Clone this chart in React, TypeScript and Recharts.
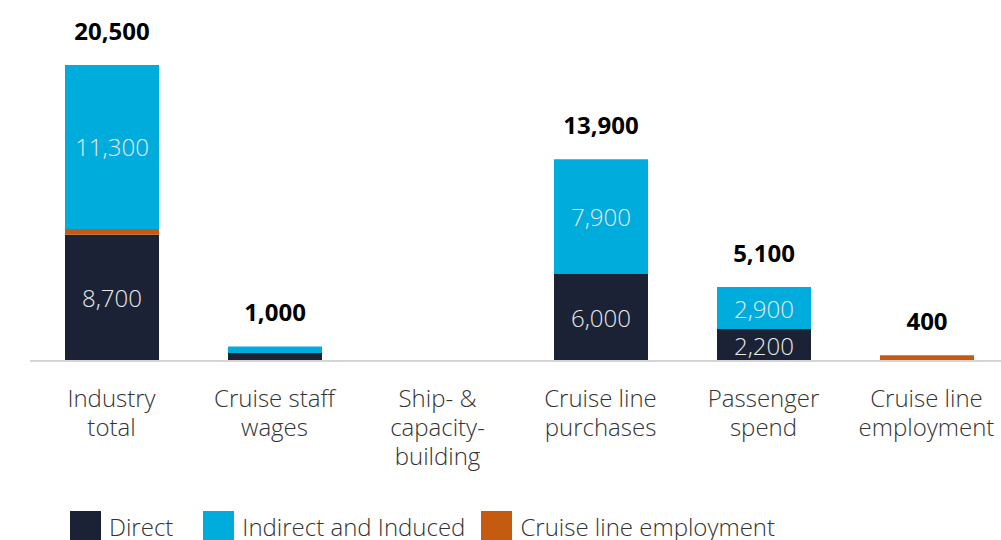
import { Bar, BarChart, LabelList, XAxis, YAxis } from "recharts";

const categoryLines = [
  ["Industry", "total"],
  ["Cruise staff", "wages"],
  ["Ship- &", "capacity-", "building"],
  ["Cruise line", "purchases"],
  ["Passenger", "spend"],
  ["Cruise line", "employment"],
];
const categories = categoryLines.map((l) => l.join(" "));

const direct = [8700, 550, 0, 6000, 2200, 0];
const indirect = [11300, 450, 0, 7900, 2900, 0];
const employment = [400, 0, 0, 0, 0, 400];
const totals: (number | null)[] = [20500, 1000, null, 13900, 5100, 400];

// the total label sits on whichever segment is on top of the stack
const chartData = categories.map((name, i) => ({
  name,
  direct: direct[i],
  employment: employment[i],
  indirect: indirect[i],
  totalTop: indirect[i] > 0 ? totals[i] : null,
  totalEmp: indirect[i] > 0 ? null : totals[i],
}));

const NAVY = "#1b2236";
const CYAN = "#00acdc";
const ORANGE = "#c55a11";
const FONT = "'Open Sans', sans-serif";

const fmt = (v: number) => v.toLocaleString("en-US");

function CategoryTick(props: any) {
  const { x, y, payload } = props;
  const idx = categories.indexOf(payload.value);
  const lines = categoryLines[idx] ?? [payload.value];
  return (
    <text
      x={x}
      y={y + 46}
      textAnchor="middle"
      fill="#333"
      fontFamily={FONT}
      fontWeight={300}
      fontSize={24}
    >
      {lines.map((line, i) => (
        <tspan key={i} x={x} dy={i === 0 ? 0 : 29}>
          {line}
        </tspan>
      ))}
    </text>
  );
}

function InnerLabel(props: any) {
  const { x, y, width, height, value } = props;
  if (!value || value < 1000) return null;
  return (
    <text
      x={x + width / 2}
      y={y + height / 2}
      textAnchor="middle"
      dominantBaseline="central"
      fill="#e8e8e8"
      fontFamily={FONT}
      fontWeight={300}
      fontSize={24}
    >
      {fmt(value)}
    </text>
  );
}

function TotalLabel(props: any) {
  const { x, y, width, value } = props;
  if (value == null) return null;
  return (
    <text
      x={x + width / 2}
      y={y - 35}
      textAnchor="middle"
      dominantBaseline="central"
      fill="#000"
      fontFamily={FONT}
      fontWeight={700}
      fontSize={24}
    >
      {fmt(value)}
    </text>
  );
}

const legendItems = [
  { label: "Direct", color: NAVY },
  { label: "Indirect and Induced", color: CYAN },
  { label: "Cruise line employment", color: ORANGE },
];
const legendGaps = [30, 16, 0];

export default function App() {
  return (
    <div
      style={{
        position: "fixed",
        left: 0,
        top: 0,
        width: 1001,
        height: 540,
        overflow: "hidden",
        background: "#fff",
        fontFamily: FONT,
      }}
    >
      <BarChart
        width={1010}
        height={540}
        data={chartData}
        margin={{ top: 65, right: 2, left: 30, bottom: 59 }}
      >
        <XAxis
          dataKey="name"
          height={120}
          interval={0}
          tickLine={false}
          tickSize={0}
          tickMargin={0}
          axisLine={{ stroke: "#d6d6d6", strokeWidth: 2 }}
          tick={<CategoryTick />}
        />
        <YAxis hide domain={[0, 20400]} />
        <Bar
          dataKey="direct"
          stackId="a"
          fill={NAVY}
          barSize={94}
          isAnimationActive={false}
        >
          <LabelList dataKey="direct" content={<InnerLabel />} />
        </Bar>
        <Bar
          dataKey="employment"
          stackId="a"
          fill={ORANGE}
          barSize={94}
          isAnimationActive={false}
        >
          <LabelList dataKey="totalEmp" content={<TotalLabel />} />
        </Bar>
        <Bar
          dataKey="indirect"
          stackId="a"
          fill={CYAN}
          barSize={94}
          isAnimationActive={false}
        >
          <LabelList dataKey="indirect" content={<InnerLabel />} />
          <LabelList dataKey="totalTop" content={<TotalLabel />} />
        </Bar>
      </BarChart>
      <div
        style={{
          position: "absolute",
          left: 70,
          top: 511,
          display: "flex",
          alignItems: "center",
          fontSize: 24,
          fontWeight: 300,
          color: "#333",
        }}
      >
        {legendItems.map((item, i) => (
          <div
            key={item.label}
            style={{
              display: "flex",
              alignItems: "center",
              marginRight: legendGaps[i],
            }}
          >
            <span
              style={{
                display: "inline-block",
                width: 31,
                height: 31,
                background: item.color,
                marginRight: 8,
              }}
            />
            <span style={{ lineHeight: "31px", whiteSpace: "nowrap" }}>
              {item.label}
            </span>
          </div>
        ))}
      </div>
    </div>
  );
}
